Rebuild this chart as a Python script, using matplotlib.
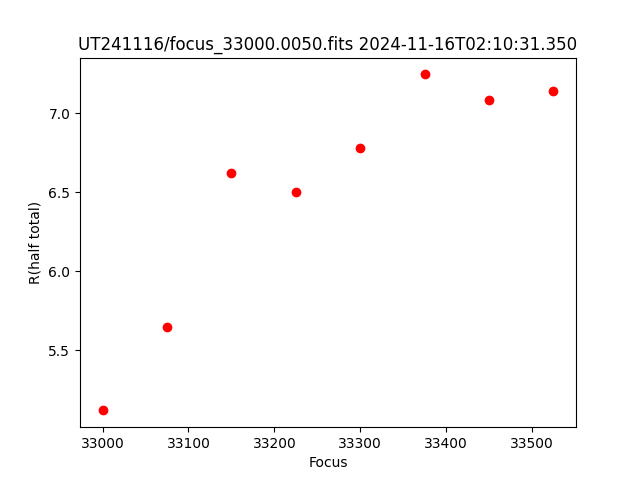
import matplotlib
matplotlib.use("Agg")
import matplotlib.pyplot as plt

# focus positions and measured half-total radius
focus = [33000, 33075, 33150, 33225, 33300, 33375, 33450, 33525]
r_half = [5.12, 5.646, 6.62, 6.50, 6.778, 7.247, 7.082, 7.139]

fig = plt.figure(figsize=(6.4, 4.8), dpi=100)
plt.plot(focus, r_half, 'ro')
plt.title('UT241116/focus_33000.0050.fits 2024-11-16T02:10:31.350')
plt.xlabel('Focus')
plt.ylabel('R(half total)')
plt.savefig('out.png')
